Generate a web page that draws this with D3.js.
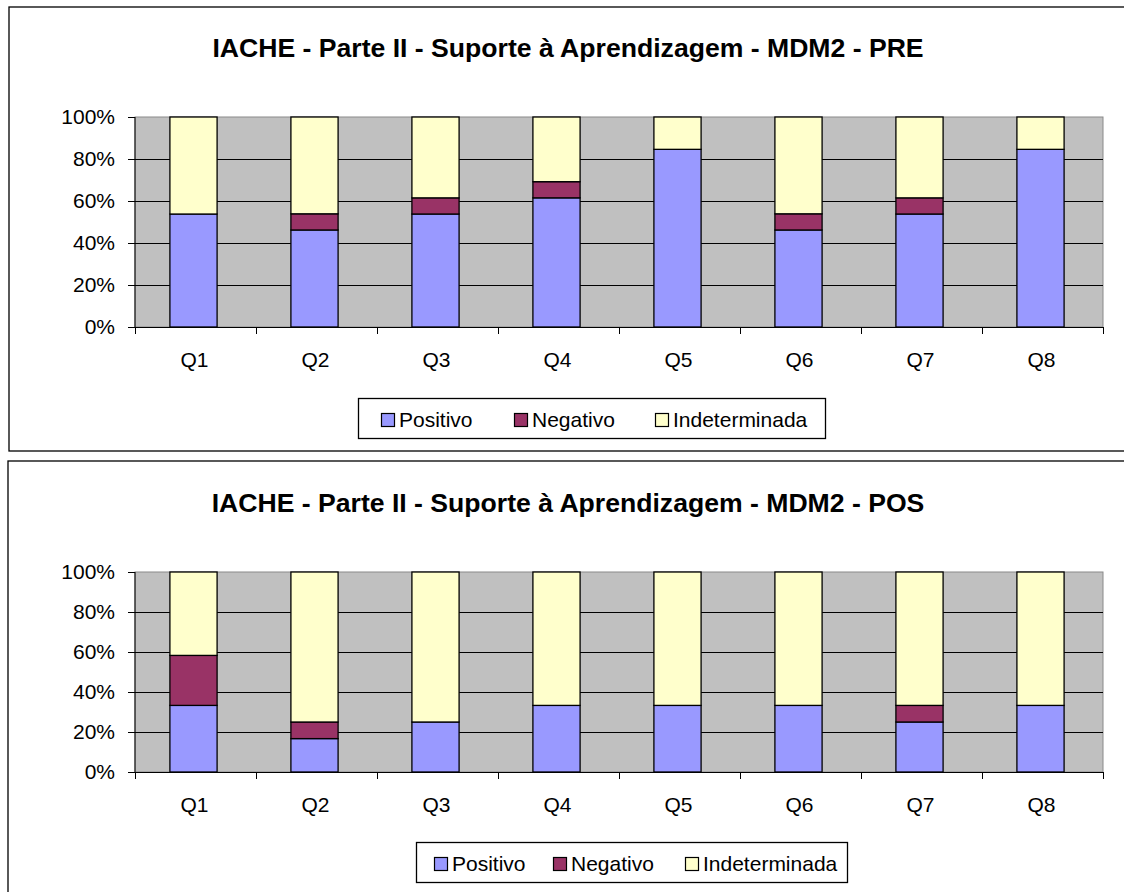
<!DOCTYPE html>
<html>
<head>
<meta charset="utf-8">
<script src="https://cdn.jsdelivr.net/npm/d3@7/dist/d3.min.js"></script>
<style>
  html, body { margin: 0; padding: 0; background: #fff; }
  svg { display: block; }
  text { font-family: "Liberation Sans", Arial, sans-serif; fill: #000; }
</style>
</head>
<body>
<svg id="chart" width="1124" height="892"></svg>
<script>
// Questions on the x axis
const categories = ["Q1", "Q2", "Q3", "Q4", "Q5", "Q6", "Q7", "Q8"];
const seriesNames = ["Positivo", "Negativo", "Indeterminada"];
const yTickValues = [0, 20, 40, 60, 80, 100];

// PRE questionnaire (% of answers)
const prePositivo      = [53.8, 46.2, 53.8, 61.5, 84.6, 46.2, 53.8, 84.6];
const preNegativo      = [0,    7.7,  7.7,  7.7,  0,    7.7,  7.7,  0];
const preIndeterminada = [46.2, 46.1, 38.5, 30.8, 15.4, 46.1, 38.5, 15.4];

// POS questionnaire (% of answers)
const posPositivo      = [33.3, 16.7, 25,   33.3, 33.3, 33.3, 25,   33.3];
const posNegativo      = [25,   8.3,  0,    0,    0,    0,    8.3,  0];
const posIndeterminada = [41.7, 75,   75,   66.7, 66.7, 66.7, 66.7, 66.7];

const titles = [
  "IACHE - Parte II - Suporte à Aprendizagem - MDM2 - PRE",
  "IACHE - Parte II - Suporte à Aprendizagem - MDM2 - POS"
];

const colors = { Positivo: "#9999ff", Negativo: "#993366", Indeterminada: "#ffffcc" };

function rows(pos, neg, ind) {
  return categories.map((c, i) => ({ cat: c, Positivo: pos[i], Negativo: neg[i], Indeterminada: ind[i] }));
}

const panels = [
  {
    data: rows(prePositivo, preNegativo, preIndeterminada),
    title: titles[0],
    frame: { x: 9, y: 7, bottom: 451 },
    titleY: 57,
    plot: { left: 135, right: 1103, top: 117, bottom: 327 },
    legend: { x: 358, y: 398, w: 467, h: 40, items: [381, 514, 655] }
  },
  {
    data: rows(posPositivo, posNegativo, posIndeterminada),
    title: titles[1],
    frame: { x: 8, y: 461, bottom: 910 },
    titleY: 512,
    plot: { left: 135, right: 1103, top: 572, bottom: 772 },
    legend: { x: 416, y: 842, w: 431, h: 40, items: [434, 553, 685] }
  }
];

const svg = d3.select("#chart");

panels.forEach(p => {
  const g = svg.append("g");

  // chart frame
  g.append("rect")
    .attr("x", p.frame.x).attr("y", p.frame.y)
    .attr("width", 1140 - p.frame.x).attr("height", p.frame.bottom - p.frame.y)
    .attr("fill", "#fff").attr("stroke", "#000").attr("stroke-width", 1.3);

  // title
  g.append("text")
    .attr("x", 568).attr("y", p.titleY)
    .attr("text-anchor", "middle")
    .style("font-size", "26.6px").style("font-weight", "bold")
    .text(p.title);

  // bars sit slightly left of the category centre
  const x = d3.scaleBand().domain(categories)
    .range([p.plot.left - 2, p.plot.right - 2]).paddingInner(0.61).paddingOuter(0.305);
  const xStep = d3.scaleBand().domain(categories).range([p.plot.left, p.plot.right]);
  const y = d3.scaleLinear().domain([0, 100]).range([p.plot.bottom, p.plot.top]);

  // plot area
  g.append("rect")
    .attr("x", p.plot.left).attr("y", p.plot.top)
    .attr("width", p.plot.right - p.plot.left).attr("height", p.plot.bottom - p.plot.top)
    .attr("fill", "#c0c0c0").attr("stroke", "#8a8a8a").attr("stroke-width", 1);

  // gridlines
  g.append("g").selectAll("line")
    .data(yTickValues.filter(v => v > 0 && v < 100))
    .join("line")
    .attr("x1", p.plot.left).attr("x2", p.plot.right)
    .attr("y1", d => Math.round(y(d)) + 0.5).attr("y2", d => Math.round(y(d)) + 0.5)
    .attr("stroke", "#000").attr("stroke-width", 1);

  // stacked bars
  const stacked = d3.stack().keys(seriesNames)(p.data);
  g.append("g").selectAll("g")
    .data(stacked)
    .join("g")
    .attr("fill", d => colors[d.key])
    .selectAll("rect")
    .data(d => d)
    .join("rect")
    .attr("x", d => x(d.data.cat))
    .attr("width", x.bandwidth())
    .attr("y", d => y(d[1]))
    .attr("height", d => y(d[0]) - y(d[1]))
    .attr("stroke", "#000").attr("stroke-width", 1.3);

  // y axis
  const yAxis = d3.axisLeft(y).tickValues(yTickValues).tickFormat(d => d + "%")
    .tickSize(7).tickPadding(13);
  const ya = g.append("g").attr("transform", `translate(${p.plot.left},0)`).call(yAxis);
  ya.select(".domain").attr("stroke", "#000").attr("d", `M0,${p.plot.top}V${p.plot.bottom}`);
  ya.selectAll(".tick line").attr("stroke", "#000");
  ya.selectAll(".tick text").style("font-size", "21px").attr("fill", "#000")
    .style("font-family", '"Liberation Sans", Arial, sans-serif');

  // x axis: tick marks on category boundaries, labels under each category
  const xa = g.append("g").attr("transform", `translate(0,${p.plot.bottom})`);
  xa.append("line").attr("x1", p.plot.left).attr("x2", p.plot.right)
    .attr("y1", 0.5).attr("y2", 0.5).attr("stroke", "#000");
  const bounds = categories.map(c => xStep(c)).concat([p.plot.right]);
  xa.selectAll("line.tk").data(bounds).join("line").attr("class", "tk")
    .attr("x1", d => Math.round(d) + 0.5).attr("x2", d => Math.round(d) + 0.5)
    .attr("y1", 0).attr("y2", 7).attr("stroke", "#000");
  xa.selectAll("text").data(categories).join("text")
    .attr("x", d => x(d) + x.bandwidth() / 2 + 1)
    .attr("y", 40)
    .attr("text-anchor", "middle")
    .style("font-size", "21px")
    .text(d => d);

  // legend
  const L = p.legend;
  const lg = g.append("g");
  lg.append("rect").attr("x", L.x + 0.5).attr("y", L.y + 0.5).attr("width", L.w).attr("height", L.h)
    .attr("fill", "#fff").attr("stroke", "#000").attr("stroke-width", 1.3);
  seriesNames.forEach((s, i) => {
    lg.append("rect")
      .attr("x", L.items[i] + 0.5).attr("y", L.y + 15.5).attr("width", 13).attr("height", 13)
      .attr("fill", colors[s]).attr("stroke", "#000").attr("stroke-width", 1.2);
    lg.append("text")
      .attr("x", L.items[i] + 18).attr("y", L.y + 29)
      .style("font-size", "21px")
      .text(s);
  });
});
</script>
</body>
</html>
